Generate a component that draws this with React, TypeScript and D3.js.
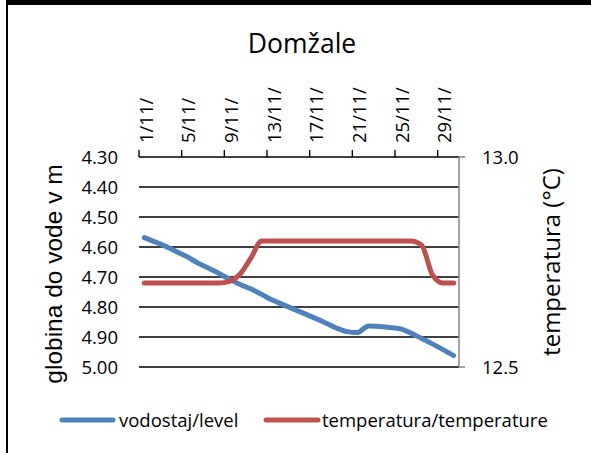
import React from "react";
import * as d3 from "d3";

const days = [1, 2, 3, 4, 5, 6, 7, 8, 9, 10, 11, 12, 13, 14, 15, 16, 17, 18, 19, 20, 21, 22, 23, 24, 25, 26, 27, 28, 29, 30];
const level = [4.569, 4.583, 4.598, 4.615, 4.632, 4.653, 4.67, 4.688, 4.708, 4.725, 4.74, 4.758, 4.777, 4.792, 4.807, 4.822, 4.837, 4.853, 4.87, 4.882, 4.885, 4.863, 4.865, 4.868, 4.873, 4.887, 4.905, 4.923, 4.942, 4.962];
const temperature = [12.7, 12.7, 12.7, 12.7, 12.7, 12.7, 12.7, 12.7, 12.704, 12.722, 12.76, 12.8, 12.8, 12.8, 12.8, 12.8, 12.8, 12.8, 12.8, 12.8, 12.8, 12.8, 12.8, 12.8, 12.8, 12.8, 12.79, 12.72, 12.7, 12.7];
const levelTicks = [4.3, 4.4, 4.5, 4.6, 4.7, 4.8, 4.9, 5.0];
const tempTicks = [12.5, 13.0];
const labelDays = [1, 5, 9, 13, 17, 21, 25, 29];
const title = "Domžale";
const leftTitle = "globina do vode v m";
const rightTitle = "temperatura (°C)";
const seriesNames = ["vodostaj/level", "temperatura/temperature"];

const W = 591, H = 453;
const BLUE = "#4F81BD", RED = "#C0504D";
const FONT = "'Open Sans', sans-serif";

export default function App() {
  const x = d3.scaleBand<number>().domain(days).range([139, 459]).padding(0);
  const cx = (d: number) => (x(d) as number) + x.bandwidth() / 2;
  const yL = d3.scaleLinear().domain([4.3, 5.0]).range([157, 367]);
  const yR = d3.scaleLinear().domain([12.5, 13.0]).range([367, 157]);

  const lineL = d3.line<number>().x((_, i) => cx(days[i])).y((d) => yL(d)).curve(d3.curveMonotoneX);
  const lineR = d3.line<number>().x((_, i) => cx(days[i])).y((d) => yR(d)).curve(d3.curveMonotoneX);

  const [x0, x1] = x.range();
  const yTop = yL(4.3);

  return (
    <svg width={W} height={H} style={{ position: "absolute", left: 0, top: 0, background: "#fff" }} fontFamily={FONT}>
      <rect x={0} y={0} width={W} height={H} fill="#fff" />
      {/* frame */}
      <rect x={6} y={0} width={W - 6} height={5} fill="#000" />
      <rect x={6} y={0} width={2} height={H} fill="#000" />

      <text x={302} y={53} textAnchor="middle" fontSize={26.5} fill="#000">{title}</text>

      {/* gridlines */}
      {levelTicks.slice(1).map((t) => (
        <line key={t} x1={x0} x2={x1} y1={yL(t)} y2={yL(t)} stroke="#000" strokeWidth={1.4} />
      ))}
      {/* top category axis */}
      <line x1={x0} x2={x1} y1={yTop} y2={yTop} stroke="#000" strokeWidth={1.4} />
      {labelDays.map((d) => (
        <line key={d} x1={x(d) as number} x2={x(d) as number} y1={yTop} y2={yTop - 7} stroke="#000" strokeWidth={1.4} />
      ))}
      {labelDays.map((d) => (
        <text key={"l" + d} transform={`translate(${cx(d) + 1.5},${yTop - 14}) rotate(-90)`} textAnchor="start" dy="0.36em" fontSize={18.5} fill="#000">
          {`${d}/11/`}
        </text>
      ))}

      {/* left tick labels */}
      {levelTicks.map((t) => (
        <text key={t} x={118} y={yL(t)} dy="0.36em" textAnchor="end" fontSize={18.5} fill="#000">{t.toFixed(2)}</text>
      ))}

      {/* right axis */}
      <line x1={x1} x2={x1} y1={yR(13)} y2={yR(12.5)} stroke="#868686" strokeWidth={1.5} />
      {tempTicks.map((t) => (
        <g key={t}>
          <line x1={x1} x2={x1 + 6} y1={yR(t)} y2={yR(t)} stroke="#868686" strokeWidth={1.5} />
          <text x={482} y={yR(t)} dy="0.36em" fontSize={18.5} fill="#000">{t.toFixed(1)}</text>
        </g>
      ))}

      {/* axis titles */}
      <text transform={`translate(53,274) rotate(-90)`} textAnchor="middle" dy="0.36em" fontSize={24.5} fontFamily="'Liberation Sans', Arial, sans-serif" fill="#000">{leftTitle}</text>
      <text transform={`translate(551,262) rotate(-90)`} textAnchor="middle" dy="0.36em" fontSize={24} fill="#000">{rightTitle}</text>

      {/* series */}
      <path d={lineL(level) || ""} fill="none" stroke={BLUE} strokeWidth={5} strokeLinecap="round" strokeLinejoin="round" />
      <path d={lineR(temperature) || ""} fill="none" stroke={RED} strokeWidth={5} strokeLinecap="round" strokeLinejoin="round" />

      {/* legend */}
      <line x1={62} x2={113} y1={420} y2={420} stroke={BLUE} strokeWidth={5} strokeLinecap="round" />
      <text x={119} y={420} dy="0.36em" fontSize={18.5} fill="#000">{seriesNames[0]}</text>
      <line x1={266} x2={318} y1={420} y2={420} stroke={RED} strokeWidth={5} strokeLinecap="round" />
      <text x={322} y={420} dy="0.36em" fontSize={18.5} fill="#000">{seriesNames[1]}</text>
    </svg>
  );
}
